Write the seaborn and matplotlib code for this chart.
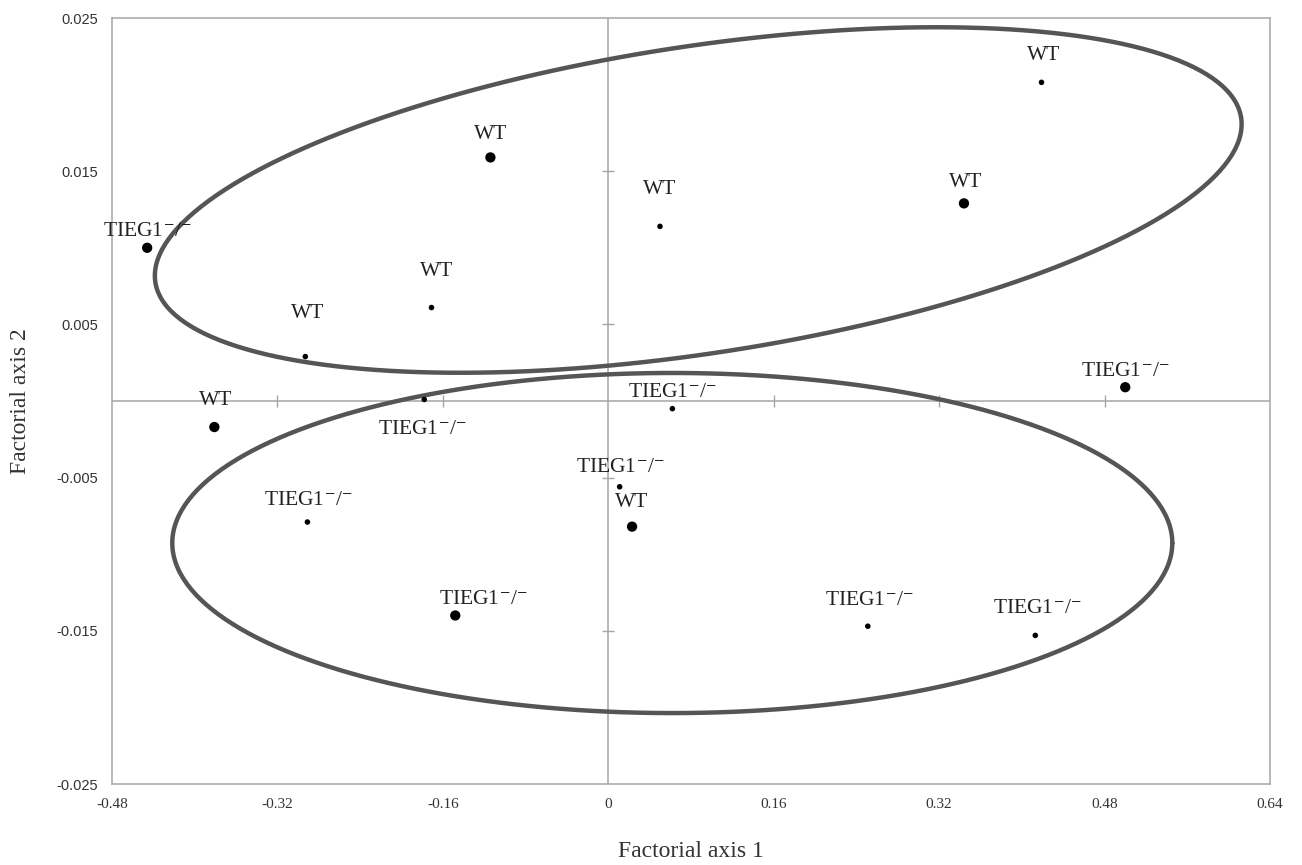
import numpy as np
import pandas as pd
import matplotlib
matplotlib.use("Agg")
import matplotlib.pyplot as plt
import seaborn as sns

# Factorial coordinates
axis1 = [-0.446, -0.114, 0.050, 0.419, 0.344, -0.171, -0.293, -0.381,
         -0.178, 0.062, 0.500, 0.011, 0.023, -0.291, -0.148, 0.251, 0.413]
axis2 = [0.0100, 0.0159, 0.0114, 0.0208, 0.0129, 0.0061, 0.0029, -0.0017,
         0.0001, -0.0005, 0.0009, -0.0056, -0.0082, -0.0079, -0.0140, -0.0147, -0.0153]
group = ["TIEG1", "WT", "WT", "WT", "WT", "WT", "WT", "WT",
         "TIEG1", "TIEG1", "TIEG1", "TIEG1", "WT", "TIEG1", "TIEG1", "TIEG1", "TIEG1"]
big = [1, 1, 0, 0, 1, 0, 0, 1, 0, 0, 1, 0, 1, 0, 1, 0, 0]

xticks = [-0.48, -0.32, -0.16, 0, 0.16, 0.32, 0.48, 0.64]
xtick_labels = ["-0.48", "-0.32", "-0.16", "0", "0.16", "0.32", "0.48", "0.64"]
yticks = [-0.025, -0.015, -0.005, 0.005, 0.015, 0.025]
ytick_labels = ["-0.025", "-0.015", "-0.005", "0.005", "0.015", "0.025"]

# label offsets in pixels (dx, dy)
offsets = [(0, 16), (0, 23), (0, 37), (2, 27), (2, 21), (5, 36), (2, 43), (1, 27),
           (-2, -30), (0, 16), (0, 16), (1, 19), (0, 24), (1, 22), (28, 16), (2, 26), (2, 27)]

# ellipses: centre, first and second half-axis vectors (data units)
ellipses = [
    ((0.087, 0.01312), (0.525, 0.00540), (0.0240, -0.00990)),
    ((0.0619, -0.00927), (0.4836, 0.0), (0.0, 0.0111)),
]

df = pd.DataFrame({"x": axis1, "y": axis2, "group": group, "big": big})
df["label"] = np.where(df["group"] == "WT", "WT", r"TIEG1$^{-}$/$^{-}$")

sns.set_style("white")
plt.rcParams["font.family"] = ["Liberation Serif", "DejaVu Serif"]
plt.rcParams["mathtext.fontset"] = "stix"

fig = plt.figure(figsize=(13.02, 8.65), dpi=100)
ax = fig.add_axes([112 / 1302, 1 - 784 / 865, 1158 / 1302, 766 / 865])

grey = "#a6a6a6"
ax.axhline(0, color=grey, lw=1.1, zorder=1)
ax.axvline(0, color=grey, lw=1.1, zorder=1)
# small tick marks on the crossing axes
ax.plot([t for t in xticks if t not in (0, -0.48, 0.64)],
        [0] * 5, ls="none", marker="|", ms=8, mew=1.0, color=grey, zorder=1)
ax.plot([0] * 4, [t for t in yticks if abs(t) < 0.02],
        ls="none", marker="_", ms=8, mew=1.0, color=grey, zorder=1)

t = np.linspace(0, 2 * np.pi, 400)
for (cx, cy), (ux, uy), (vx, vy) in ellipses:
    ax.plot(cx + ux * np.cos(t) + vx * np.sin(t),
            cy + uy * np.cos(t) + vy * np.sin(t),
            color="#555555", lw=3.2, zorder=2)

sns.scatterplot(data=df, x="x", y="y", size="big", sizes={0: 16, 1: 55},
                color="black", edgecolor="none", legend=False, ax=ax, zorder=3)

for (xv, yv, lab), (dx, dy) in zip(df[["x", "y", "label"]].values, offsets):
    ax.annotate(lab, (xv, yv), xytext=(dx * 0.72, dy * 0.72), textcoords="offset points",
                ha="center", va="center", fontsize=15.5, color="#222222")

ax.set_xlim(-0.48, 0.64)
ax.set_ylim(-0.025, 0.025)
ax.set_xticks(xticks)
ax.set_xticklabels(xtick_labels, fontsize=11, color="#333333")
ax.set_yticks(yticks)
ax.set_yticklabels(ytick_labels, fontsize=10.5, color="#333333",
                   family=["Liberation Sans", "DejaVu Sans"])
ax.tick_params(length=0, pad=10)
for s in ax.spines.values():
    s.set_color(grey)
    s.set_linewidth(1.1)

ax.set_xlabel("Factorial axis 1", fontsize=17, color="#333333", labelpad=22)
ax.set_ylabel("Factorial axis 2", fontsize=17, color="#333333", labelpad=18)

fig.savefig("out.png", dpi=100)
